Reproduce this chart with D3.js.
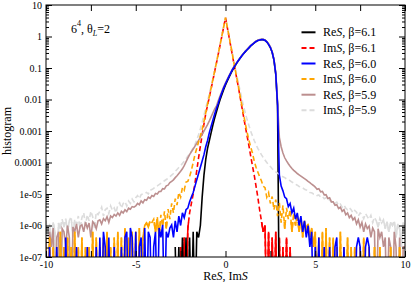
<!DOCTYPE html>
<meta charset="utf-8">
<style>
body { margin: 0; background: #fff; }
text { font-family: "Liberation Serif", "Times New Roman", serif; fill: #000; }
</style>
<body>
<script src="https://cdn.jsdelivr.net/npm/d3@7"></script>
<script>

// histogram values, stored as log10, one value per bin of width 0.1
// null = empty bin (line drops below the axis)
var binStep = 0.1;

// Re S, beta=6.1
var reS61Start = -2.8;
var reS61 = [
  -6.68, null, -6.68, null, -6.38, null, -6.38, null,
  -6.38, null, -6.2, null, -6.2, -6.38, -6.0, -5.1, -4.4, -3.9,
  -3.55, -3.3, -3.05, -2.8, -2.58, -2.38, -2.18, -2.0, -1.84, -1.68,
  -1.54, -1.41, -1.29, -1.17, -1.06, -0.97, -0.87, -0.78, -0.7, -0.62,
  -0.55, -0.48, -0.42, -0.36, -0.3, -0.25, -0.2, -0.16, -0.13, -0.11,
  -0.1, -0.1, -0.12, -0.17, -0.25, -0.35, -0.5, -0.75, -1.2, -2.2,
  null
];

// Im S, beta=6.1
var imS61Start = -2.5;
var imS61 = [
  -6.68, null, -6.38, null, -6.1,
  -5.6, -5.3, -5.0, -4.65, -4.25, -3.85, -3.48, -3.12, -2.78, -2.45,
  -2.18, -1.92, -1.65, -1.38, -1.1, -0.83, -0.55, -0.27, 0.02, 0.3,
  0.6, 0.29, -0.02, -0.33, -0.64, -0.95, -1.25, -1.55, -1.87, -2.2,
  -2.52, -2.84, -3.15, -3.45, -3.78, -4.1, -4.4, -4.75, -5.1, -5.5,
  -5.85, -6.2, -6.0, null, -6.2, null, -6.38, null, -6.2, null,
  -6.38, null, -6.68, null, -6.38, null, -6.68, null, null
];

// Re S, beta=6.0
var reS60Start = -10;
var reS60 = [
  null, null, -6.68, null, null, null, -6.68, null, null, null,
  null, -6.38, null, null, null, null, null, -6.68, null, null,
  null, null, null, -6.68, null, null, null, null, -6.68, null,
  -6.38, null, -6.2, -6.68, null, -6.38, null, null, -6.68, null,
  null, null, -6.68, null, -6.38, -6.2, null, -6.08, -6.38, null,
  -6.2, null, -6.68, -6.38, null, -6.08, null, -6.2, -6.38, null,
  -6.68, -6.2, null, -6.08, -6.38, -5.98, null, -6.2, -6.38, -6.08,
  -5.98, -6.38, -5.85, -6.2, -5.7, -6.0, -5.6, -5.75, -5.5, -5.45,
  -5.25, -5.1, -4.95, -4.75, -4.55, -4.35, -4.15, -3.95, -3.75, -3.5,
  -3.3, -3.05, -2.85, -2.65, -2.45, -2.28, -2.12, -1.94, -1.78, -1.63,
  -1.5, -1.38, -1.26, -1.15, -1.04, -0.95, -0.86, -0.78, -0.7, -0.62,
  -0.55, -0.48, -0.42, -0.36, -0.3, -0.25, -0.2, -0.16, -0.13, -0.11,
  -0.1, -0.1, -0.12, -0.17, -0.25, -0.35, -0.5, -0.74, -1.18, -2.15,
  -4.4, -4.75, -4.9, -5.1, -5.15, -5.4, -5.3, -5.6, -5.45, -5.8,
  -5.6, -6.0, -5.7, -6.2, -5.85, -6.38, -6.0, -6.68, -6.2, null,
  -6.68, null, -6.38, null, null, -6.68, null, null, -6.68, null,
  null, -6.68, -6.38, null, null, null, -6.68, null, null, null,
  null, null, null, -6.68, -6.38, -6.68, null, null, -6.68, -6.38,
  -6.68, null, null, null, null, null, null, null, null, null,
  null, null, null, null, null, null, null, null, null, null,
  null
];

// Im S, beta=6.0
var imS60Start = -10;
var imS60 = [
  -6.68, null, -6.38, null, -6.68, null, -6.68, null, -6.2, null,
  -6.68, null, -6.38, null, -6.68, null, -6.2, null, -6.68, null,
  -6.38, null, -6.68, null, -6.68, null, -6.2, null, -6.38, null,
  -6.68, null, -6.38, null, -6.2, null, -6.68, null, -6.38, null,
  -6.2, null, -6.38, null, -6.08, null, -6.38, null, -6.2, null,
  -6.2, null, -6.08, null, -6.38, -6.0, -5.92, -6.05, -5.85, -5.9,
  -5.8, -6.2, -5.72, -6.38, -5.66, -6.0, -5.55, -6.1, -5.48, -5.8,
  -5.3, -5.6, -5.15, -5.35, -4.95, -5.1, -4.8, -4.88, -4.62, -4.6,
  -4.45, -4.25, -4.0, -3.75, -3.55, -3.35, -3.15, -2.95, -2.7, -2.42,
  -2.15, -1.9, -1.63, -1.36, -1.09, -0.82, -0.54, -0.26, 0.03, 0.31,
  0.6, 0.3, 0.0, -0.31, -0.62, -0.93, -1.23, -1.53, -1.84, -2.15,
  -2.45, -2.75, -3.03, -3.28, -3.5, -3.7, -3.95, -4.15, -4.3, -4.45,
  -4.58, -4.75, -4.8, -5.1, -4.96, -5.3, -5.08, -5.5, -5.18, -5.7,
  -5.28, -5.9, -5.36, -6.1, -5.44, -5.8, -5.5, -6.2, -5.6, -6.0,
  -5.66, -6.2, -5.75, -6.38, -5.85, -6.1, -5.95, -6.38, -6.08, -6.68,
  -6.2, null, -6.38, null, -6.2, null, -6.08, null, -6.38, null,
  -6.38, null, -6.68, null, -6.2, null, -6.68, null, -6.38, null,
  -6.68, null, -6.68, null, null, -6.68, null, -6.38, null, null,
  -6.68, null, null, -6.68, null, null, -6.68, null, null, null,
  null, null, -6.68, null, null, null, null, -6.68, null, null,
  null
];

// Re S, beta=5.9
var reS59Start = -10;
var reS59 = [
  -6.38, null, -6.2, -6.68, -6.08, null, -6.38, -6.2, null, -6.1,
  -6.2, -6.68, -6.0, -6.38, null, -6.05, -6.2, -5.95, -6.38, -6.02,
  -5.98, -6.2, -5.9, -6.08, -5.92, -6.38, -5.88, -5.95, -6.1, -5.85,
  -5.82, -5.95, -5.78, -5.85, -5.72, -5.9, -5.7, -5.75, -5.65, -5.7,
  -5.6, -5.68, -5.55, -5.6, -5.5, -5.56, -5.45, -5.48, -5.4, -5.42,
  -5.38, -5.3, -5.34, -5.22, -5.28, -5.18, -5.2, -5.1, -5.14, -5.05,
  -5.08, -4.98, -5.0, -4.92, -4.92, -4.83, -4.84, -4.74, -4.72, -4.64,
  -4.6, -4.55, -4.48, -4.42, -4.35, -4.28, -4.2, -4.1, -3.98, -3.86,
  -3.75, -3.66, -3.57, -3.48, -3.39, -3.3, -3.2, -3.1, -3.0, -2.9,
  -2.8, -2.68, -2.55, -2.42, -2.3, -2.2, -2.03, -1.88, -1.74, -1.6,
  -1.47, -1.35, -1.24, -1.13, -1.02, -0.93, -0.85, -0.77, -0.69, -0.61,
  -0.54, -0.47, -0.41, -0.35, -0.29, -0.24, -0.19, -0.15, -0.12, -0.1,
  -0.09, -0.09, -0.11, -0.16, -0.23, -0.33, -0.48, -0.72, -1.15, -2.1,
  -3.2, -3.5, -3.7, -3.85, -3.95, -4.04, -4.12, -4.19, -4.25, -4.3,
  -4.35, -4.39, -4.43, -4.47, -4.51, -4.55, -4.6, -4.64, -4.69, -4.73,
  -4.78, -4.85, -4.83, -4.93, -4.92, -5.03, -5.02, -5.14, -5.12, -5.25,
  -5.25, -5.36, -5.34, -5.46, -5.42, -5.55, -5.5, -5.66, -5.6, -5.75,
  -5.68, -5.82, -5.75, -5.95, -5.82, -6.05, -5.9, -6.2, -5.95, -6.1,
  -6.02, -6.38, -6.08, -6.2, null, -6.1, -6.38, -6.2, -6.68, -6.38,
  null, -6.38, -6.68, null, -6.2, -6.68, null, -6.38, null, -6.68,
  -6.68
];

// Im S, beta=5.9
var imS59Start = -10;
var imS59 = [
  -5.85, -6.38, -5.95, -6.68, -5.9, -6.2, null, -5.92, -6.1, -5.8,
  -6.05, -5.78, -6.2, -5.85, -5.72, -6.38, -5.8, -5.95, -5.7, -6.1,
  -5.75, -5.6, -5.98, -5.66, -5.85, -5.55, -5.72, -6.08, -5.58, -5.65,
  -5.55, -5.42, -5.7, -5.5, -5.45, -5.62, -5.38, -5.52, -5.44, -5.6,
  -5.35, -5.28, -5.45, -5.3, -5.24, -5.38, -5.22, -5.3, -5.16, -5.25,
  -5.12, -5.05, -5.15, -5.02, -5.0, -4.98, -4.95, -5.0, -4.88, -4.86,
  -4.82, -4.76, -4.74, -4.7, -4.66, -4.62, -4.58, -4.54, -4.5, -4.45,
  -4.4, -4.35, -4.28, -4.22, -4.16, -4.1, -4.03, -3.96, -3.88, -3.8,
  -3.72, -3.64, -3.54, -3.42, -3.28, -3.12, -2.93, -2.72, -2.5, -2.27,
  -2.05, -1.82, -1.57, -1.32, -1.06, -0.8, -0.53, -0.25, 0.04, 0.32,
  0.6, 0.31, 0.02, -0.28, -0.57, -0.86, -1.14, -1.42, -1.69, -1.95,
  -2.2, -2.42, -2.63, -2.82, -3.0, -3.15, -3.3, -3.43, -3.55, -3.65,
  -3.75, -3.84, -3.92, -4.0, -4.07, -4.13, -4.2, -4.25, -4.3, -4.34,
  -4.38, -4.42, -4.45, -4.48, -4.52, -4.55, -4.58, -4.62, -4.65, -4.69,
  -4.72, -4.76, -4.78, -4.8, -4.85, -4.87, -4.9, -4.95, -4.96, -5.0,
  -5.0, -5.05, -5.03, -5.1, -5.08, -5.15, -5.12, -5.2, -5.18, -5.26,
  -5.25, -5.3, -5.26, -5.36, -5.32, -5.42, -5.35, -5.45, -5.5, -5.44,
  -5.5, -5.6, -5.52, -5.58, -5.7, -5.6, -5.65, -5.78, -5.62, -5.72,
  -5.8, -5.68, -5.9, -5.74, -5.85, -6.05, -5.78, -5.92, -5.82, -6.1,
  -5.88, -6.2, -5.9, -6.0, -5.85, -6.38, -5.95, -6.1, -6.68, -5.92,
  -6.0
];

var yTickValues = [1e-7, 1e-6, 1e-5, 1e-4, 1e-3, 1e-2, 1e-1, 1, 10];
var yTickLabels = ["1e-07", "1e-06", "1e-05", "0.0001", "0.001", "0.01", "0.1", "1", "10"];
var xTickValues = [-10, -5, 0, 5, 10];
var xMinorValues = [-7.5, -2.5, 2.5, 7.5];

var width = 411, height = 282;
var plotL = 46, plotR = 405, plotT = 5, plotB = 257;

var x = d3.scaleLinear().domain([-10, 10]).range([plotL, plotR]);
var y = d3.scaleLog().domain([1e-7, 10]).range([plotB, plotT]);

var svg = d3.select("body").append("svg")
            .attr("width", width)
            .attr("height", height);

svg.append("clipPath").attr("id", "plotclip")
   .append("rect")
   .attr("x", plotL).attr("y", plotT)
   .attr("width", plotR - plotL).attr("height", plotB - plotT);

// low-count floor: there the sparse bins fill the dashes in, so draw it solid
var floorTop = y(1.3e-6);
svg.append("clipPath").attr("id", "floorclip")
   .append("rect")
   .attr("x", plotL).attr("y", floorTop)
   .attr("width", plotR - plotL).attr("height", plotB - floorTop);

function toPoints(start, vals) {
  return vals.map(function(e, i) {
    return [Math.round((start + i * binStep) * 10) / 10, e == null ? 1e-9 : Math.pow(10, e)];
  });
}

// drawing order (last one on top)
var series = [
  {pts: toPoints(imS61Start, imS61), color: "#ff0000", dash: "5,3"},
  {pts: toPoints(reS61Start, reS61), color: "#000000", dash: null},
  {pts: toPoints(imS59Start, imS59), color: "#dcdcdc", dash: "5,3"},
  {pts: toPoints(reS59Start, reS59), color: "#bc8f8f", dash: null},
  {pts: toPoints(imS60Start, imS60), color: "#ffa500", dash: "5,3"},
  {pts: toPoints(reS60Start, reS60), color: "#0000ff", dash: null}
];

var line = d3.line()
  .x(function(d){ return x(d[0]); })
  .y(function(d){ return y(d[1]); });

var curves = svg.append("g").attr("clip-path", "url(#plotclip)");
series.forEach(function(s) {
  var g = curves.append("g");
  g.append("path")
    .attr("d", line(s.pts))
    .attr("fill", "none")
    .attr("stroke", s.color)
    .attr("stroke-width", 1.6)
    .attr("stroke-dasharray", s.dash);
  if (s.dash) {
    g.append("path")
      .attr("d", line(s.pts))
      .attr("clip-path", "url(#floorclip)")
      .attr("fill", "none")
      .attr("stroke", s.color)
      .attr("stroke-width", 1.6);
  }
});

// axes
function styleAxis(g) {
  g.select(".domain").remove();
  g.selectAll("line").attr("stroke", "#000");
  g.selectAll("text").attr("font-family", "Liberation Serif, serif").attr("font-size", 10).attr("fill", "#000");
}

svg.append("g").attr("transform", "translate(0," + plotB + ")")
   .call(d3.axisBottom(x).tickValues(xTickValues).tickSize(-6).tickPadding(4)
     .tickFormat(function(d){ return String(d); }))
   .call(styleAxis);
svg.append("g").attr("transform", "translate(0," + plotB + ")")
   .call(d3.axisBottom(x).tickValues(xMinorValues).tickSize(-6).tickFormat(""))
   .call(styleAxis);
svg.append("g").attr("transform", "translate(0," + plotT + ")")
   .call(d3.axisTop(x).tickValues(xTickValues.concat(xMinorValues)).tickSize(-6).tickFormat(""))
   .call(styleAxis);

var yMinor = [];
for (var p = -7; p < 1; p++)
  for (var k = 2; k < 10; k++)
    yMinor.push(k * Math.pow(10, p));

svg.append("g").attr("transform", "translate(" + plotL + ",0)")
   .call(d3.axisLeft(y).tickValues(yTickValues).tickSize(-6).tickPadding(4)
     .tickFormat(function(d, i){ return yTickLabels[i]; }))
   .call(styleAxis);
svg.append("g").attr("transform", "translate(" + plotL + ",0)")
   .call(d3.axisLeft(y).tickValues(yMinor).tickSize(-3).tickFormat(""))
   .call(styleAxis);
svg.append("g").attr("transform", "translate(" + plotR + ",0)")
   .call(d3.axisRight(y).tickValues(yTickValues).tickSize(-6).tickFormat(""))
   .call(styleAxis);
svg.append("g").attr("transform", "translate(" + plotR + ",0)")
   .call(d3.axisRight(y).tickValues(yMinor).tickSize(-3).tickFormat(""))
   .call(styleAxis);

svg.append("rect")
   .attr("x", plotL).attr("y", plotT)
   .attr("width", plotR - plotL).attr("height", plotB - plotT)
   .attr("fill", "none").attr("stroke", "#000").attr("stroke-width", 1);

// axis titles
var xt = svg.append("text")
   .attr("x", x(0)).attr("y", 280)
   .attr("text-anchor", "middle").attr("font-size", 12);
xt.append("tspan").text("Re");
xt.append("tspan").attr("font-style", "italic").text("S");
xt.append("tspan").text(", Im");
xt.append("tspan").attr("font-style", "italic").text("S");

svg.append("text")
   .attr("transform", "translate(11," + ((plotT + plotB) / 2) + ") rotate(-90)")
   .attr("text-anchor", "middle").attr("font-size", 12)
   .text("histogram");

// annotation
var an = svg.append("text").attr("x", 71).attr("y", 33).attr("font-size", 12);
an.append("tspan").text("6");
an.append("tspan").attr("font-size", 8).attr("dy", -7).text("4");
an.append("tspan").attr("dy", 7).text(", \u03b8");
an.append("tspan").attr("font-size", 8).attr("font-style", "italic").attr("dy", 3).text("L");
an.append("tspan").attr("dy", -3).text("=2");

// legend
var legendNames = [["Re", "6.1"], ["Im", "6.1"], ["Re", "6.0"], ["Im", "6.0"], ["Re", "5.9"], ["Im", "5.9"]];
var legendColors = ["#000000", "#ff0000", "#0000ff", "#ffa500", "#bc8f8f", "#dcdcdc"];
var legendDash = [null, "5,3", null, "5,3", null, "5,3"];

var lg = svg.append("g").selectAll("g")
  .data(legendNames)
  .enter().append("g")
  .attr("transform", function(d, i){ return "translate(0," + (32.3 + i * 15.6) + ")"; });

lg.append("line")
  .attr("x1", 301.5).attr("x2", 315.5)
  .attr("stroke", function(d, i){ return legendColors[i]; })
  .attr("stroke-width", 2)
  .attr("stroke-dasharray", function(d, i){ return legendDash[i]; });

var lt = lg.append("text").attr("x", 323).attr("y", 4).attr("font-size", 12);
lt.append("tspan").text(function(d){ return d[0]; });
lt.append("tspan").attr("font-style", "italic").text("S");
lt.append("tspan").text(function(d){ return ", \u03b2=" + d[1]; });

</script>
</body>
